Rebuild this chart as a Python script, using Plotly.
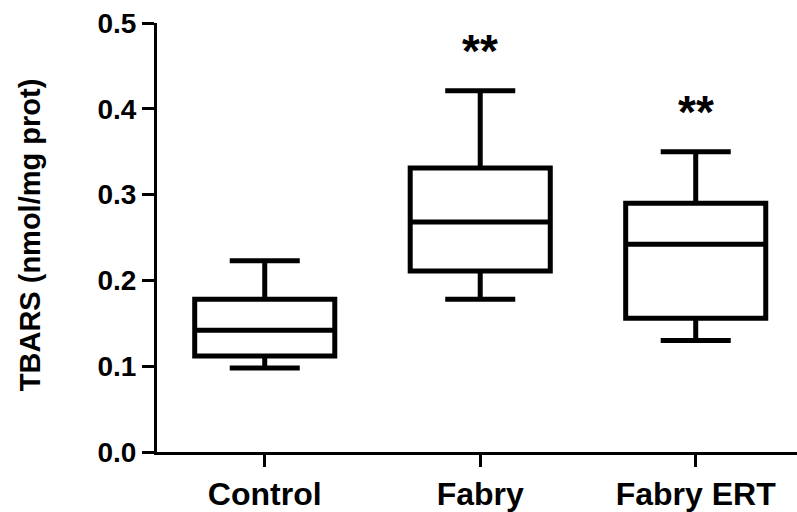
import plotly.graph_objects as go

categories = ["Control", "Fabry", "Fabry ERT"]
lower_whisker = [0.098, 0.178, 0.130]
q1_vals = [0.112, 0.211, 0.156]
median_vals = [0.142, 0.268, 0.242]
q3_vals = [0.178, 0.331, 0.290]
upper_whisker = [0.223, 0.421, 0.350]
significance = ["", "**", "**"]
y_ticks = [0.0, 0.1, 0.2, 0.3, 0.4, 0.5]

fig = go.Figure()
positions = list(range(len(categories)))
fig.add_trace(go.Box(
    x=positions,
    lowerfence=lower_whisker,
    q1=q1_vals,
    median=median_vals,
    q3=q3_vals,
    upperfence=upper_whisker,
    width=0.65,
    whiskerwidth=0.5,
    fillcolor="white",
    line=dict(color="black", width=5),
    boxpoints=False,
    hoverinfo="skip",
    showlegend=False,
))

font_family = "Liberation Sans, Arial, sans-serif"
for i, s in enumerate(significance):
    if s:
        fig.add_annotation(
            x=positions[i], y=upper_whisker[i], xref="x", yref="y",
            text="<b>" + s + "</b>", showarrow=False,
            yshift=40, yanchor="middle",
            font=dict(family=font_family, size=46, color="black"),
        )

fig.add_annotation(
    x=-0.198, y=0.506, xref="paper", yref="paper",
    text="<b>TBARS (nmol/mg prot)</b>", textangle=-90, showarrow=False,
    xanchor="center", yanchor="middle",
    font=dict(family=font_family, size=29, color="black"),
)

fig.update_layout(
    width=797, height=512,
    margin=dict(l=157, r=0, t=23, b=58),
    paper_bgcolor="white", plot_bgcolor="white",
    font=dict(family=font_family, color="black"),
)
fig.update_xaxes(
    range=[-0.5, 2.47],
    tickmode="array", tickvals=positions,
    ticktext=["<b>" + c + "</b>" for c in categories],
    tickfont=dict(family=font_family, size=32, color="black"),
    showline=True, linecolor="black", linewidth=3,
    ticks="outside", ticklen=12, tickwidth=3, tickcolor="black",
    showgrid=False, zeroline=False,
)
fig.update_yaxes(
    range=[0, 0.5],
    tickmode="array", tickvals=y_ticks,
    ticktext=["<b>%.1f</b>" % v for v in y_ticks],
    tickfont=dict(family=font_family, size=28, color="black"),
    showline=True, linecolor="black", linewidth=3,
    ticks="outside", ticklen=12, tickwidth=3, tickcolor="black",
    showgrid=False, zeroline=False,
)

fig.write_html("out.html")
